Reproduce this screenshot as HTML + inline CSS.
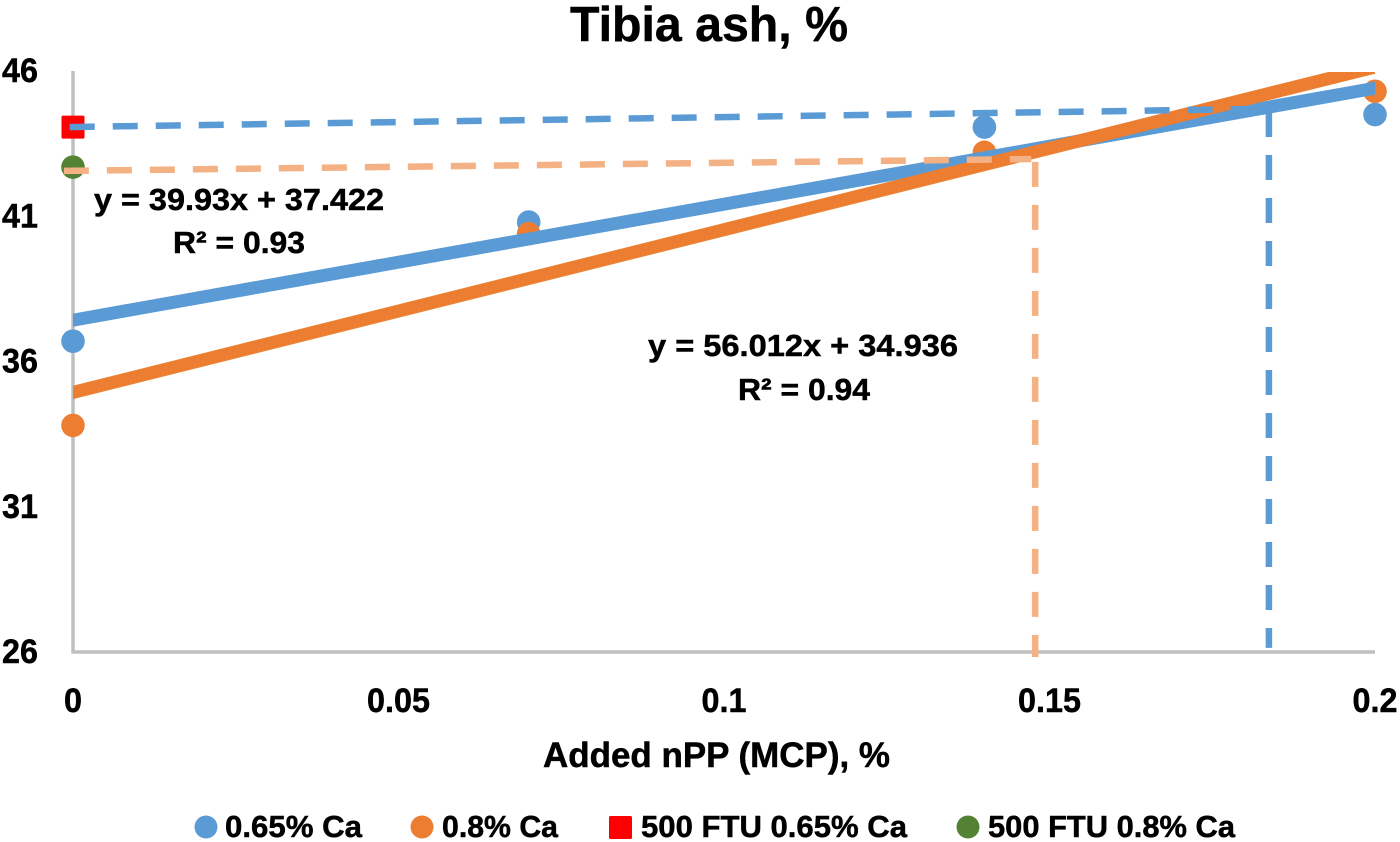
<!DOCTYPE html>
<html lang="en">
<head>
<meta charset="utf-8">
<title>Tibia ash, %</title>
<style>
  html, body { margin: 0; padding: 0; background: #ffffff; }
  svg { display: block; }
  text { font-family: "Liberation Sans", sans-serif; font-weight: bold; fill: #000000; stroke: #000000; stroke-width: 0.5px; }
</style>
</head>
<body>
<svg id="chart" width="1400" height="842" viewBox="0 0 1400 842" xmlns="http://www.w3.org/2000/svg">
  <defs>
    <clipPath id="plot-clip"><rect x="73" y="72" width="1302" height="590"></rect></clipPath>
  </defs>
  <rect x="0" y="0" width="1400" height="842" fill="#ffffff"></rect>
  <text x="570" y="41" font-size="49" textLength="278" lengthAdjust="spacingAndGlyphs">Tibia ash, %</text>
  <g id="axes"></g>
  <g id="marks"></g>
  <g id="trends" clip-path="url(#plot-clip)"></g>
  <g id="guides"></g>
  <text x="94" y="210" font-size="31" textLength="290" lengthAdjust="spacingAndGlyphs">y = 39.93x + 37.422</text>
  <text x="173" y="253" font-size="31" textLength="132" lengthAdjust="spacingAndGlyphs">R² = 0.93</text>
  <text x="648" y="356" font-size="31" textLength="310" lengthAdjust="spacingAndGlyphs">y = 56.012x + 34.936</text>
  <text x="738" y="400" font-size="31" textLength="132" lengthAdjust="spacingAndGlyphs">R² = 0.94</text>
  <text x="543" y="767" font-size="35" textLength="347" lengthAdjust="spacingAndGlyphs">Added nPP (MCP), %</text>

  <g>
    <circle cx="206" cy="827" r="11.5" fill="#5B9BD5"></circle>
    <text x="225" y="837" font-size="31" textLength="137" lengthAdjust="spacingAndGlyphs">0.65% Ca</text>
    <circle cx="422" cy="827" r="11.5" fill="#ED7D31"></circle>
    <text x="442" y="837" font-size="31" textLength="116" lengthAdjust="spacingAndGlyphs">0.8% Ca</text>
    <rect x="609" y="816" width="23" height="23" rx="1.5" fill="#FF0000"></rect>
    <text x="641" y="837" font-size="31" textLength="266" lengthAdjust="spacingAndGlyphs">500 FTU 0.65% Ca</text>
    <circle cx="968" cy="827" r="11.5" fill="#548235"></circle>
    <text x="988" y="837" font-size="31" textLength="247" lengthAdjust="spacingAndGlyphs">500 FTU 0.8% Ca</text>
  </g>
</svg>
<script>
// ---- Data ----
const xTickValues = [0, 0.05, 0.1, 0.15, 0.2];
const xTickLabels = ["0", "0.05", "0.1", "0.15", "0.2"];
const yTickValues = [26, 31, 36, 41, 46];
const yTickLabels = ["26", "31", "36", "41", "46"];

const nppLevels = [0, 0.07, 0.14, 0.2];
const ash065 = [36.7, 40.8, 44.07, 44.5];
const ash08 = [33.8, 40.4, 43.2, 45.3];

const ftuX = [0];
const ftu065 = [44.07];
const ftu08 = [42.69];

const trendX = [0, 0.2];
const trend065 = [37.422, 45.408];
const trend08 = [34.936, 46.138];

const guide065HX = [-0.0005, 0.1808];
const guide065HY = [44.07, 44.69];
const guide08HX = [-0.0014, 0.1472];
const guide08HY = [42.56, 42.97];
const guide065VX = [0.1837, 0.1837];
const guide065VY = [44.59, 26.14];
const guide08VX = [0.1478, 0.1478];
const guide08VY = [42.87, 25.83];

// ---- Axis functions ----
function xScale(v) { return 73 + (v - 0) / 0.2 * 1302; }
function yScale(v) { return 652 - (v - 26) / 20 * 581; }

const NS = "http://www.w3.org/2000/svg";
function make(tag, parent, attrs) {
  const el = document.createElementNS(NS, tag);
  for (const k in attrs) el.setAttribute(k, attrs[k]);
  parent.appendChild(el);
  return el;
}

const axes = document.getElementById("axes");
const marks = document.getElementById("marks");
const trends = document.getElementById("trends");
const guides = document.getElementById("guides");

// Axis lines
const yAxis = make("line", axes, { x1: xScale(0), x2: xScale(0), y1: yScale(46), y2: yScale(26) + 1.75, stroke: "#BFBFBF", "stroke-width": 3.5 });


const xAxis = make("line", axes, { x1: xScale(0), x2: xScale(0.2), y1: yScale(26), y2: yScale(26), stroke: "#BFBFBF", "stroke-width": 3.5 });



// Tick labels
function squeeze(t) {
  t.setAttribute("textLength", (t.getComputedTextLength() * 0.95).toFixed(1));
  t.setAttribute("lengthAdjust", "spacingAndGlyphs");
}
yTickValues.forEach(function (v, i) {
  const t = make("text", axes, { x: 2, y: yScale(v) + 11, "font-size": 34 });
  t.textContent = yTickLabels[i];
  
  
  squeeze(t);
});
xTickValues.forEach(function (v, i) {
  const t = make("text", axes, { x: xScale(v), y: 712, "font-size": 34, "text-anchor": "middle" });
  t.textContent = xTickLabels[i];
  
  
  squeeze(t);
});

// Data points
function dots(xs, ys, color, name) {
  xs.forEach(function (x, i) {
    const c = make("circle", marks, { cx: xScale(x), cy: yScale(ys[i]), r: 11.8, fill: color });
    
    
  });
}
dots(nppLevels, ash065, "#5B9BD5", "point-0-65-ca");
dots(nppLevels, ash08, "#ED7D31", "point-0-8-ca");
dots(ftuX, ftu08, "#548235", "point-500-ftu-0-8-ca");
ftuX.forEach(function (x, i) {
  const s = make("rect", marks, { x: xScale(x) - 11.5, y: yScale(ftu065[i]) - 11.5, width: 23, height: 23, rx: 1.5, fill: "#FF0000" });
  
  
});

// Trend lines
function polyPoints(xs, ys) {
  return xs.map(function (x, i) { return xScale(x) + "," + yScale(ys[i]); }).join(" ");
}
function extendedTrend(ys) {
  const m = (ys[1] - ys[0]) / (trendX[1] - trendX[0]);
  const pad = 0.002;
  return polyPoints([trendX[0] - pad, trendX[1] + pad], [ys[0] - m * pad, ys[1] + m * pad]);
}
const trendBlue = make("polyline", trends, { points: extendedTrend(trend065), fill: "none", stroke: "#5B9BD5", "stroke-width": 13 });


const trendOrange = make("polyline", trends, { points: extendedTrend(trend08), fill: "none", stroke: "#ED7D31", "stroke-width": 13 });



// Dashed guide lines
function guide(xs, ys, color) {
  return make("polyline", guides, { points: polyPoints(xs, ys), fill: "none", stroke: color, "stroke-width": 6.5, "stroke-dasharray": "25 18" });
}
const g1 = guide(guide08HX, guide08HY, "#F4B183");


const g2 = guide(guide08VX, guide08VY, "#F4B183");


const g3 = guide(guide065HX, guide065HY, "#5B9BD5");


const g4 = guide(guide065VX, guide065VY, "#5B9BD5");


</script>
</body>
</html>
